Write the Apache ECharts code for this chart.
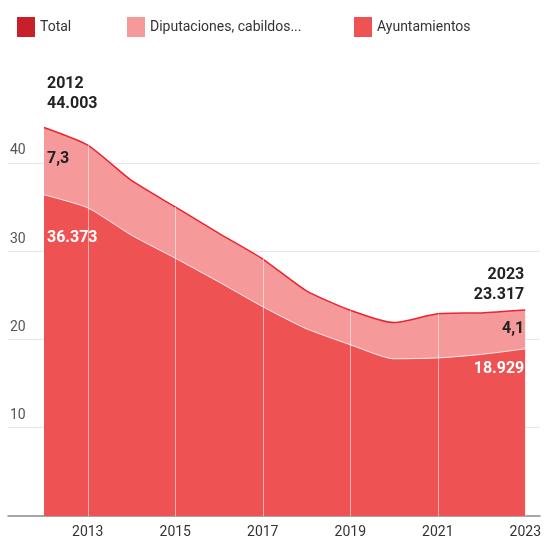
<!DOCTYPE html>
<html>
<head>
<meta charset="utf-8">
<script src="https://cdn.jsdelivr.net/npm/echarts@6/dist/echarts.min.js"></script>
<style>
	html, body { margin: 0; padding: 0; background: #fff; }
	#chart { width: 544px; height: 540px; }
</style>
</head>
<body>
<div id="chart"></div>
<script>
	// datos (miles de empleados)
	const years = ['2012', '2013', '2014', '2015', '2016', '2017', '2018', '2019', '2020', '2021', '2022', '2023'];
	const total = [44.003, 42.0, 38.0, 35.0, 32.0, 29.1, 25.5, 23.3, 21.9, 22.9, 23.0, 23.317];
	const ayuntamientos = [36.373, 34.9, 31.8, 29.2, 26.5, 23.7, 21.2, 19.4, 17.8, 17.9, 18.3, 18.929];
	const diputaciones = [7.63, 7.1, 6.2, 5.8, 5.5, 5.4, 4.3, 3.9, 4.1, 5.0, 4.7, 4.388];
	const dipLabels = ['7,3', '4,1'];
	const xTicks = ['2013', '2015', '2017', '2019', '2021', '2023'];
	const names = ['Total', 'Diputaciones, cabildos...', 'Ayuntamientos'];

	const last = years.length - 1;
	let fmt = (v) => v.toFixed(3);
	let font = 'Roboto, "Liberation Sans", sans-serif';

	let withEnds = (vals, first, end) => {
		let res = vals.slice();
		res[0] = { value: vals[0], label: first };
		res[last] = { value: vals[last], label: end };
		return res;
	};

	let lbl = {
		show: true,
		fontFamily: font,
		fontWeight: 'bold',
		fontSize: 16,
		lineHeight: 20
	};

	// lineas verticales blancas en los anos impares, del eje al total
	let vLines = xTicks.map((y) => {
		let i = years.indexOf(y);
		return [{ coord: [y, 0] }, { coord: [y, total[i]] }];
	});

	let legendBase = {
		top: 12,
		icon: 'rect',
		itemWidth: 18,
		itemHeight: 20,
		selectedMode: false,
		textStyle: { fontFamily: font, fontSize: 14, color: '#333' }
	};

	let yBase = { type: 'value', min: 0, max: 50, interval: 10 };

	let option = {
		animation: false,
		legend: [
			Object.assign({}, legendBase, { left: 12, data: [names[0]] }),
			Object.assign({}, legendBase, { left: 122, data: [names[1]] }),
			Object.assign({}, legendBase, { left: 349, data: [names[2]] })
		],
		grid: [
			// grid 0: series
			{ left: 44, right: 12, top: 74.5, bottom: 24 },
			// grid 1: reticula de fondo a todo el ancho
			{ left: 8, right: 4, top: 74.5, bottom: 24 }
		],
		xAxis: [
			{
				gridIndex: 0,
				type: 'category',
				boundaryGap: false,
				data: years,
				axisLine: { show: false },
				axisTick: { show: false },
				splitLine: { show: false },
				axisLabel: {
					interval: (i, v) => xTicks.indexOf(v) >= 0,
					color: '#333',
					fontFamily: font,
					fontSize: 14,
					margin: 9
				}
			},
			{
				gridIndex: 1,
				type: 'value',
				min: 0,
				max: 1,
				axisLine: { show: true, lineStyle: { color: '#8a8a8a', width: 1.5 } },
				axisTick: { show: false },
				axisLabel: { show: false },
				splitLine: { show: false }
			}
		],
		yAxis: [
			Object.assign({}, yBase, {
				gridIndex: 0,
				show: false
			}),
			Object.assign({}, yBase, {
				gridIndex: 1,
				axisLine: { show: false },
				axisTick: { show: false },
				splitLine: {
					show: true,
					showMinLine: false,
					showMaxLine: false,
					lineStyle: { color: '#e6e6e6', width: 1 }
				},
				axisLabel: {
					inside: true,
					showMinLabel: false,
					showMaxLabel: false,
					verticalAlign: 'bottom',
					margin: 2,
					padding: [0, 0, 5, 0],
					color: '#555',
					fontFamily: font,
					fontSize: 14
				}
			})
		],
		series: [
			{
				name: names[2],
				type: 'line',
				stack: 'emp',
				smooth: 0.2,
				symbol: 'circle',
				symbolSize: 0,
				showSymbol: true,
				z: 2,
				itemStyle: { color: '#ef5253' },
				lineStyle: { color: 'rgba(255,255,255,0.75)', width: 1 },
				areaStyle: { color: '#ef5253', opacity: 1 },
				data: withEnds(ayuntamientos,
					Object.assign({}, lbl, { position: 'bottom', distance: 33, align: 'left', offset: [3, 0], color: '#fff', formatter: fmt(ayuntamientos[0]) }),
					Object.assign({}, lbl, { position: 'bottom', distance: 10, align: 'right', offset: [-1, 0], color: '#fff', formatter: fmt(ayuntamientos[last]) }))
			},
			{
				name: names[1],
				type: 'line',
				stack: 'emp',
				smooth: 0.2,
				symbol: 'circle',
				symbolSize: 0,
				showSymbol: true,
				z: 2,
				itemStyle: { color: '#f5999b' },
				lineStyle: { color: '#f5999b', width: 0 },
				areaStyle: { color: '#f5999b', opacity: 1 },
				data: withEnds(diputaciones,
					Object.assign({}, lbl, { position: 'bottom', distance: 22, align: 'left', offset: [3, 0], color: '#222', formatter: dipLabels[0] }),
					Object.assign({}, lbl, { position: 'bottom', distance: 9, align: 'right', offset: [-1, 0], color: '#222', formatter: dipLabels[1] }))
			},
			{
				name: names[0],
				type: 'line',
				smooth: 0.2,
				symbol: 'circle',
				symbolSize: 0,
				showSymbol: true,
				z: 3,
				itemStyle: { color: '#c8202b' },
				lineStyle: { color: '#e8262f', width: 1.5 },
				data: withEnds(total,
					Object.assign({}, lbl, { position: 'top', distance: 13, align: 'left', offset: [3, 0], color: '#222', formatter: years[0] + '\n' + fmt(total[0]) }),
					Object.assign({}, lbl, { position: 'top', distance: 5, align: 'right', offset: [-1, 0], color: '#222', formatter: years[last] + '\n' + fmt(total[last]) })),
				markLine: {
					silent: true,
					symbol: 'none',
					label: { show: false },
					lineStyle: { color: 'rgba(255,255,255,0.55)', width: 1, type: 'solid' },
					data: vLines
				}
			}
		]
	};

	var myChart = echarts.init(document.getElementById('chart'));
	myChart.setOption(option);
</script>
</body>
</html>
